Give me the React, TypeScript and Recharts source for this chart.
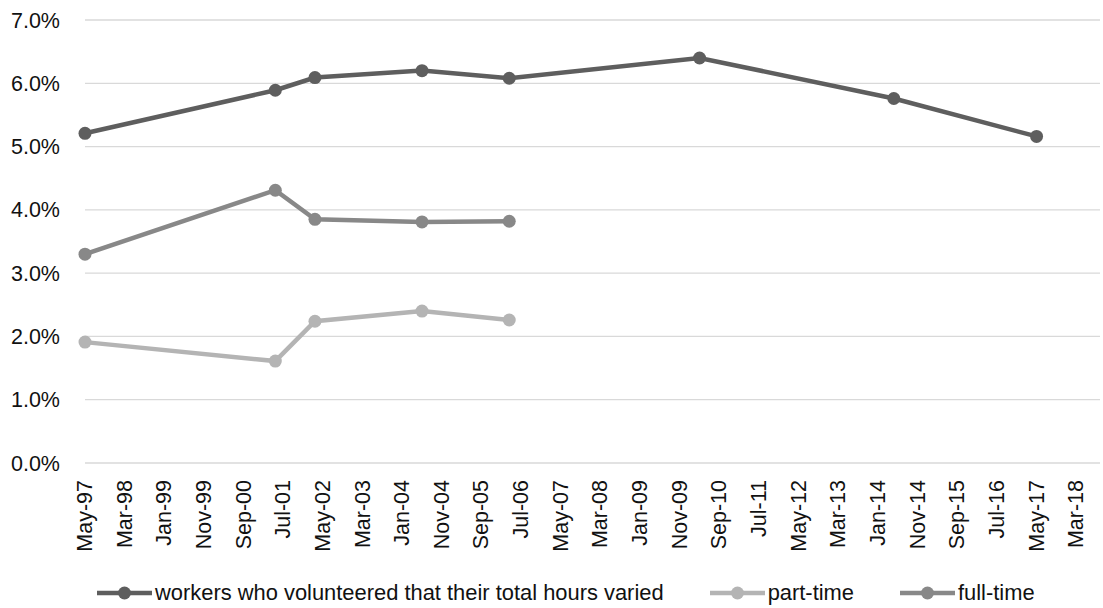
import { LineChart, Line, XAxis, YAxis, CartesianGrid, Legend } from "recharts";

// survey dates (year-month) and shares in percent
const surveyDates = ["1997-05", "2001-05", "2002-03", "2004-06", "2006-04", "2010-04", "2014-05", "2017-05"];
const hoursVaried = [5.21, 5.89, 6.09, 6.2, 6.08, 6.4, 5.76, 5.16];
const partTime = [1.91, 1.61, 2.24, 2.4, 2.26];
const fullTime = [3.3, 4.31, 3.85, 3.81, 3.82];

const MONTHS = ["Jan", "Feb", "Mar", "Apr", "May", "Jun", "Jul", "Aug", "Sep", "Oct", "Nov", "Dec"];
const yTicks = [0, 1, 2, 3, 4, 5, 6, 7];

const FONT = '"Liberation Sans", Arial, sans-serif';
const DARK = "#5e5e5e";
const MID = "#888888";
const LIGHT = "#b4b4b4";

const toMonth = (s: string) => {
  const [y, m] = s.split("-").map(Number);
  return y * 12 + (m - 1);
};

const startMonth = toMonth("1997-05");
// date axis: a tick every 10 months, May-97 .. Mar-18
const xTicks = Array.from({ length: 26 }, (_, i) => startMonth + i * 10);

const fmtMonth = (v: number) => {
  const y = Math.floor(v / 12);
  const m = v - y * 12;
  return `${MONTHS[m]}-${String(y % 100).padStart(2, "0")}`;
};

const data = surveyDates.map((d, i) => ({
  month: toMonth(d),
  varied: hoursVaried[i],
  part: partTime[i],
  full: fullTime[i],
}));

const legendItems = [
  { label: "workers who volunteered that their total hours varied", color: DARK },
  { label: "part-time", color: LIGHT },
  { label: "full-time", color: MID },
];

const XTick = ({ x, y, payload }: any) => (
  <text
    x={x}
    y={y + 15}
    transform={`rotate(-90, ${x}, ${y + 15})`}
    textAnchor="end"
    dominantBaseline="central"
    fontSize={21.5}
    fontFamily={FONT}
    fill="#111"
  >
    {fmtMonth(payload.value)}
  </text>
);

const renderLegend = () => (
  <div
    style={{
      height: 45,
      boxSizing: "border-box",
      paddingTop: 14,
      paddingLeft: 97,
      display: "flex",
      alignItems: "center",
      fontFamily: FONT,
      fontSize: 21.9,
      color: "#111",
    }}
  >
    {legendItems.map((item) => (
      <div key={item.label} style={{ display: "flex", alignItems: "center", marginRight: 46, height: 31 }}>
        <svg width={55} height={16} style={{ marginRight: 3 }}>
          <line x1={0} y1={8} x2={55} y2={8} stroke={item.color} strokeWidth={4.5} />
          <circle cx={27.5} cy={8} r={6.5} fill={item.color} />
        </svg>
        <span style={{ whiteSpace: "nowrap" }}>{item.label}</span>
      </div>
    ))}
  </div>
);

export default function App() {
  return (
    <div style={{ position: "absolute", left: 0, top: 0, width: 1103, height: 608, background: "#fff" }}>
      <LineChart width={1103} height={608} data={data} margin={{ top: 20, right: 3, bottom: 0, left: 0 }}>
        <CartesianGrid vertical={false} stroke="#d9d9d9" strokeWidth={1.3} />
        <XAxis
          dataKey="month"
          type="number"
          domain={[startMonth, startMonth + 256]}
          ticks={xTicks}
          interval={0}
          tick={<XTick />}
          tickSize={0}
          axisLine={false}
          tickLine={false}
          height={100}
        />
        <YAxis
          domain={[0, 7]}
          ticks={yTicks}
          tickFormatter={(v: number) => `${v.toFixed(1)}%`}
          width={85}
          tickSize={0}
          tickMargin={25}
          axisLine={false}
          tickLine={false}
          tick={{ fontSize: 21.5, fontFamily: FONT, fill: "#111" }}
        />
        <Legend verticalAlign="bottom" height={45} content={renderLegend} wrapperStyle={{ left: 0, width: 1103 }} />
        <Line
          dataKey="varied"
          stroke={DARK}
          strokeWidth={4.5}
          dot={{ r: 6.5, fill: DARK, stroke: DARK, strokeWidth: 0 }}
          activeDot={false}
          isAnimationActive={false}
        />
        <Line
          dataKey="part"
          stroke={LIGHT}
          strokeWidth={4.5}
          dot={{ r: 6.5, fill: LIGHT, stroke: LIGHT, strokeWidth: 0 }}
          activeDot={false}
          isAnimationActive={false}
        />
        <Line
          dataKey="full"
          stroke={MID}
          strokeWidth={4.5}
          dot={{ r: 6.5, fill: MID, stroke: MID, strokeWidth: 0 }}
          activeDot={false}
          isAnimationActive={false}
        />
      </LineChart>
    </div>
  );
}
